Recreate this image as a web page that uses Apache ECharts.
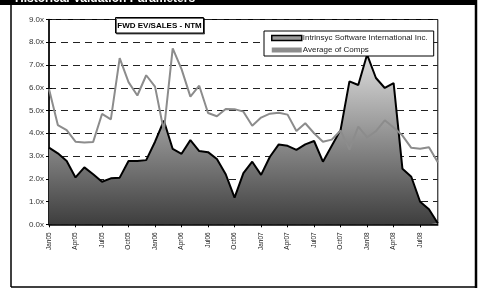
<!DOCTYPE html>
<html><head><meta charset="utf-8">
<script src="https://cdn.jsdelivr.net/npm/echarts@6/dist/echarts.min.js"></script>
<style>html,body{margin:0;padding:0;background:#fff;}#c{width:482px;height:295px;}</style>
</head><body><div id="c"></div>
<script>
var months = ['Jan05','Feb05','Mar05','Apr05','May05','Jun05','Jul05','Aug05','Sep05','Oct05','Nov05','Dec05',
'Jan06','Feb06','Mar06','Apr06','May06','Jun06','Jul06','Aug06','Sep06','Oct06','Nov06','Dec06',
'Jan07','Feb07','Mar07','Apr07','May07','Jun07','Jul07','Aug07','Sep07','Oct07','Nov07','Dec07',
'Jan08','Feb08','Mar08','Apr08','May08','Jun08','Jul08','Aug08','Sep08'];
var intrinsyc = [3.37,3.12,2.78,2.06,2.50,2.20,1.87,2.02,2.05,2.78,2.78,2.82,
 3.63,4.55,3.31,3.10,3.70,3.22,3.17,2.87,2.20,1.17,
 2.25,2.75,2.17,2.97,3.51,3.45,3.27,3.51,3.66,2.75,3.45,4.15,
 6.28,6.12,7.46,6.43,5.99,6.20,2.44,2.09,0.99,0.66,0.05];
var comps = [5.95,4.36,4.14,3.63,3.60,3.62,4.85,4.61,7.30,6.25,5.66,6.55,
 6.05,4.10,7.73,6.82,5.61,6.09,4.89,4.75,5.07,5.06,
 4.95,4.33,4.69,4.86,4.90,4.82,4.10,4.44,4.00,3.63,3.72,4.12,
 3.28,4.29,3.82,4.09,4.57,4.25,3.90,3.36,3.32,3.39,2.73];
var seriesNames = ['Intrinsyc Software International Inc.','Average of Comps'];
var chartTitle = 'FWD EV/SALES - NTM';
var pageTitle = 'Historical Valuation Parameters';

var chart = echarts.init(document.getElementById('c'), null, {renderer:'canvas'});
var F = 'Arial, "Liberation Sans", sans-serif';
chart.setOption({
  animation:false,
  backgroundColor:'#fff',
  grid:{left:49, top:19.5, right:44.2, bottom:70.7, show:true, borderColor:'#000', borderWidth:1, backgroundColor:'#fff'},
  legend:{
    orient:'vertical', left:264, top:31, width:170,
    padding:[3,6,2,7], itemGap:4, itemWidth:30, itemHeight:5,
    backgroundColor:'#fff', borderColor:'#000', borderWidth:1,
    textStyle:{fontFamily:F, fontSize:8, color:'#222', padding:[0,0,0,-4]},
    data:[
      {name:seriesNames[0], icon:'rect', itemStyle:{color:'#9a9a9a', borderColor:'#000', borderWidth:1.5}},
      {name:seriesNames[1], icon:'rect', itemStyle:{color:'#8c8c8c', borderWidth:0}}
    ]
  },
  xAxis:{
    type:'category', boundaryGap:false, data:months,
    axisLine:{lineStyle:{color:'#000', width:1.5}},
    axisTick:{interval:2, length:3, lineStyle:{color:'#000'}},
    axisLabel:{interval:2, rotate:90, fontSize:6.5, fontFamily:F, color:'#222', margin:8}
  },
  yAxis:[{
    type:'value', min:0, max:9, interval:1,
    axisLine:{show:true, lineStyle:{color:'#000', width:1.5}},
    axisTick:{show:true, length:3, lineStyle:{color:'#000'}},
    axisLabel:{fontSize:8, fontFamily:F, color:'#333', margin:5, formatter:function(v){return v.toFixed(1)+'x';}},
    splitLine:{show:true, lineStyle:{color:'#222', type:[7,5], width:1}}
  },{
    type:'value', min:0, max:9, interval:1, position:'left',
    axisLine:{show:false}, axisLabel:{show:false}, splitLine:{show:false},
    axisTick:{show:true, inside:true, length:3, lineStyle:{color:'#000'}}
  }],
  series:[{
    name:seriesNames[0], type:'line', data:intrinsyc, symbol:'none', z:2,
    lineStyle:{color:'#000', width:2},
    itemStyle:{color:'#9a9a9a'},
    areaStyle:{opacity:1, color:new echarts.graphic.LinearGradient(0,0,0,1,[{offset:0,color:'#dedede'},{offset:1,color:'#3e3e3e'}])}
  },{
    name:seriesNames[1], type:'line', data:comps, symbol:'none', z:3,
    lineStyle:{color:'#8c8c8c', width:2}, itemStyle:{color:'#8c8c8c'}
  }],
  graphic:[
    {type:'rect', shape:{x:0,y:0,width:477,height:5}, style:{fill:'#000'}, z:10},
    {type:'text', x:15, y:4.5, style:{text:pageTitle, font:'bold 12px '+F, fill:'#fff', verticalAlign:'bottom'}, z:11},
    {type:'line', shape:{x1:11,y1:5,x2:11,y2:287}, style:{stroke:'#000', lineWidth:1.5}, z:10},
    {type:'line', shape:{x1:476,y1:0,x2:476,y2:288}, style:{stroke:'#000', lineWidth:2.5}, z:10},
    {type:'line', shape:{x1:11,y1:287,x2:477,y2:287}, style:{stroke:'#000', lineWidth:1.5}, z:10},
    {type:'rect', shape:{x:115.5,y:17.5,width:88,height:15.5}, style:{fill:'#fff', stroke:'#000', lineWidth:1, shadowColor:'rgba(0,0,0,0.6)', shadowOffsetX:1, shadowOffsetY:1}, z:10},
    {type:'text', x:159.5, y:25.5, style:{text:chartTitle, font:'bold 8px '+F, fill:'#000', align:'center', verticalAlign:'middle'}, z:11}
  ]
});
</script></body></html>
